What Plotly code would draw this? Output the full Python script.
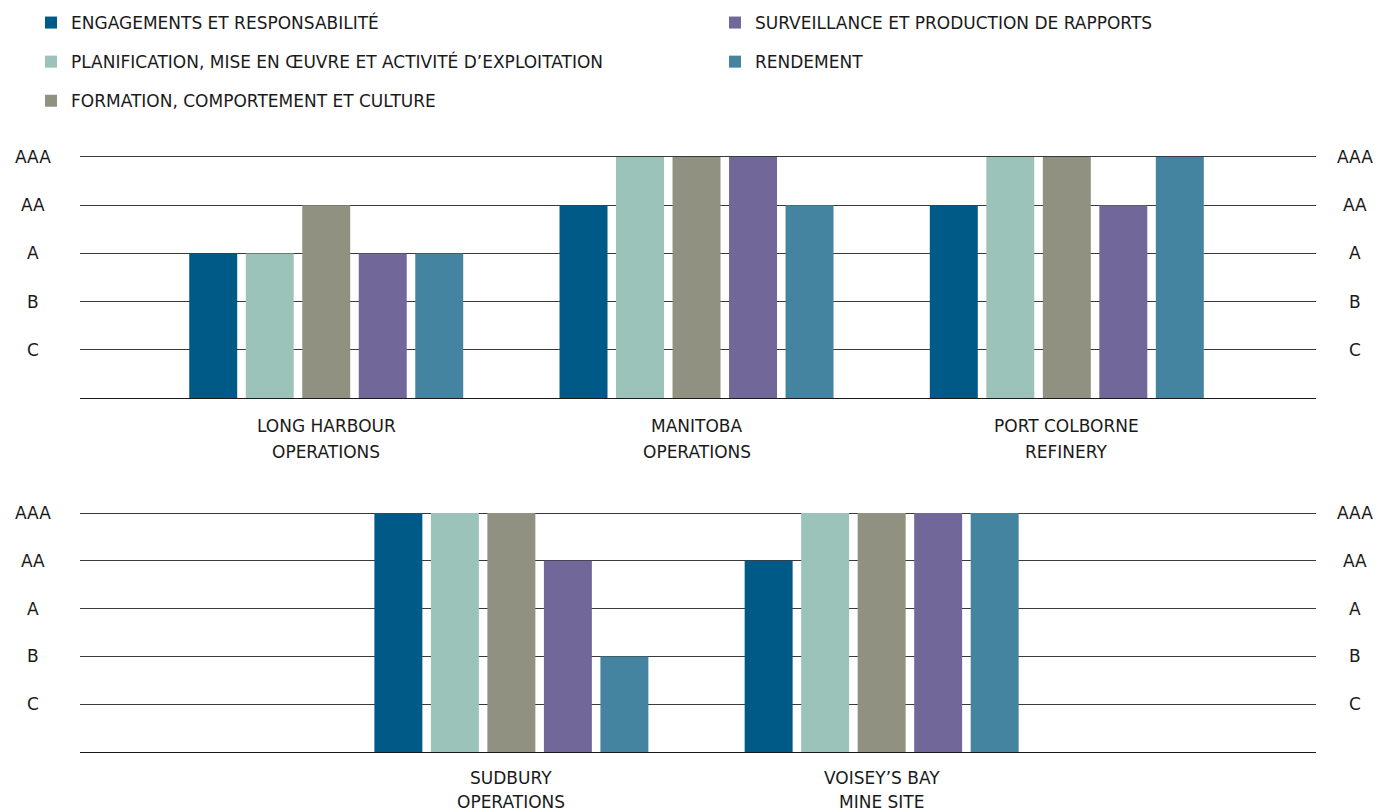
import plotly.graph_objects as go

# ---------------- data ----------------
series_names = [
    "ENGAGEMENTS ET RESPONSABILITÉ",
    "PLANIFICATION, MISE EN ŒUVRE ET ACTIVITÉ D’EXPLOITATION",
    "FORMATION, COMPORTEMENT ET CULTURE",
    "SURVEILLANCE ET PRODUCTION DE RAPPORTS",
    "RENDEMENT",
]
series_colors = ["#005A87", "#9BC3BA", "#909181", "#716799", "#4584A0"]

rating_labels = ["C", "B", "A", "AA", "AAA"]
rating_values = [1, 2, 3, 4, 5]

top_sites_line1 = ["LONG HARBOUR", "MANITOBA", "PORT COLBORNE"]
top_sites_line2 = ["OPERATIONS", "OPERATIONS", "REFINERY"]
top_positions = [0, 1, 2]

bottom_sites_line1 = ["SUDBURY", "VOISEY’S BAY"]
bottom_sites_line2 = ["OPERATIONS", "MINE SITE"]
bottom_positions = [0.5, 1.5]

engagements_top = ["A", "AA", "AA"]
planification_top = ["A", "AAA", "AAA"]
formation_top = ["AA", "AAA", "AAA"]
surveillance_top = ["A", "AAA", "AA"]
rendement_top = ["A", "AA", "AAA"]

engagements_bottom = ["AAA", "AA"]
planification_bottom = ["AAA", "AAA"]
formation_bottom = ["AAA", "AAA"]
surveillance_bottom = ["AA", "AAA"]
rendement_bottom = ["B", "AAA"]

top_ratings = [engagements_top, planification_top, formation_top, surveillance_top, rendement_top]
bottom_ratings = [engagements_bottom, planification_bottom, formation_bottom, surveillance_bottom, rendement_bottom]

# ---------------- styling ----------------
FONT = "DejaVu Sans"
TEXT_COLOR = "#1a1a1a"
FS = 17
W, H = 1381, 812
ML, MR, MT, MB = 80, 65, 0, 0
PW = W - ML - MR
PH = H - MT - MB
YMAX = 5.06  # a little headroom so the AAA gridline is drawn


def to_num(r):
    return rating_values[rating_labels.index(r)]


def px_to_paper_x(px):
    return (px - ML) / PW


def px_to_paper_y(py):
    return (H - MB - py) / PH


fig = go.Figure()
legend_ids = ["legend", "legend", "legend", "legend2", "legend2"]

for i, name in enumerate(series_names):
    fig.add_trace(go.Bar(
        x=top_positions, y=[to_num(r) for r in top_ratings[i]],
        name=name, marker=dict(color=series_colors[i], line=dict(width=0)),
        xaxis="x", yaxis="y", legend=legend_ids[i], legendgroup=f"g{i}",
        showlegend=True, hoverinfo="skip",
    ))
for i, name in enumerate(series_names):
    fig.add_trace(go.Bar(
        x=bottom_positions, y=[to_num(r) for r in bottom_ratings[i]],
        name=name, marker=dict(color=series_colors[i], line=dict(width=0)),
        xaxis="x2", yaxis="y2", legend=legend_ids[i], legendgroup=f"g{i}",
        showlegend=False, hoverinfo="skip",
    ))

xrange = [-0.665, 2.673]
# pixel rows of value 0 and value 5 (AAA) in each panel
top_base, top_aaa = 398, 157
bot_base, bot_aaa = 752, 513
top_unit = (top_base - top_aaa) / 5
bot_unit = (bot_base - bot_aaa) / 5
top_top = top_aaa - (YMAX - 5) * top_unit
bot_top = bot_aaa - (YMAX - 5) * bot_unit
top_dom = [px_to_paper_y(top_base), px_to_paper_y(top_top)]
bot_dom = [px_to_paper_y(bot_base), px_to_paper_y(bot_top)]

xcommon = dict(range=xrange, showgrid=False, zeroline=False, showticklabels=False,
               showline=True, linecolor="#1a1a1a", linewidth=1, ticks="", fixedrange=True)
ycommon = dict(range=[0, YMAX], tickvals=rating_values, showticklabels=False, showgrid=True,
               gridcolor="#3a3a3a", gridwidth=1, zeroline=False, showline=False, ticks="",
               fixedrange=True)

legend_font = dict(family=FONT, size=FS, color=TEXT_COLOR)
fig.update_layout(
    width=W, height=H,
    margin=dict(l=ML, r=MR, t=MT, b=MB),
    paper_bgcolor="white", plot_bgcolor="white",
    font=dict(family=FONT, size=FS, color=TEXT_COLOR),
    barmode="group", bargap=0.237, bargroupgap=0.151,
    xaxis=dict(domain=[0, 1], anchor="y", **xcommon),
    yaxis=dict(domain=top_dom, anchor="x", **ycommon),
    xaxis2=dict(domain=[0, 1], anchor="y2", **xcommon),
    yaxis2=dict(domain=bot_dom, anchor="x2", **ycommon),
    legend=dict(x=px_to_paper_x(31), y=px_to_paper_y(5), xref="paper", yref="paper",
                xanchor="left", yanchor="top", orientation="v",
                tracegroupgap=14, font=legend_font, bgcolor="rgba(0,0,0,0)"),
    legend2=dict(x=px_to_paper_x(715), y=px_to_paper_y(5), xref="paper", yref="paper",
                 xanchor="left", yanchor="top", orientation="v",
                 tracegroupgap=14, font=legend_font, bgcolor="rgba(0,0,0,0)"),
    showlegend=True,
)

annotations = []
left_x = px_to_paper_x(33)
right_x = px_to_paper_x(1355)
for yref in ["y", "y2"]:
    for lab, val in zip(rating_labels, rating_values):
        for xx in (left_x, right_x):
            annotations.append(dict(x=xx, y=val, xref="paper", yref=yref, text=lab,
                                    showarrow=False, xanchor="center", yanchor="middle",
                                    font=dict(family=FONT, size=FS, color=TEXT_COLOR)))

top_h = top_base - top_top
bot_h = bot_base - bot_top
top_offsets = (28, 54)   # px below the baseline for the two label lines
bot_offsets = (26, 50)
for pos, l1, l2 in zip(top_positions, top_sites_line1, top_sites_line2):
    annotations.append(dict(x=pos, y=-top_offsets[0] / top_h, xref="x", yref="y domain", text=l1,
                            showarrow=False, xanchor="center", yanchor="middle"))
    annotations.append(dict(x=pos, y=-top_offsets[1] / top_h, xref="x", yref="y domain", text=l2,
                            showarrow=False, xanchor="center", yanchor="middle"))
for pos, l1, l2 in zip(bottom_positions, bottom_sites_line1, bottom_sites_line2):
    annotations.append(dict(x=pos, y=-bot_offsets[0] / bot_h, xref="x2", yref="y2 domain", text=l1,
                            showarrow=False, xanchor="center", yanchor="middle"))
    annotations.append(dict(x=pos, y=-bot_offsets[1] / bot_h, xref="x2", yref="y2 domain", text=l2,
                            showarrow=False, xanchor="center", yanchor="middle"))

fig.update_layout(annotations=annotations)

fig.write_html("out.html", config={"displayModeBar": False},
               post_script="document.body.style.margin='0';document.body.style.overflow='hidden';")
